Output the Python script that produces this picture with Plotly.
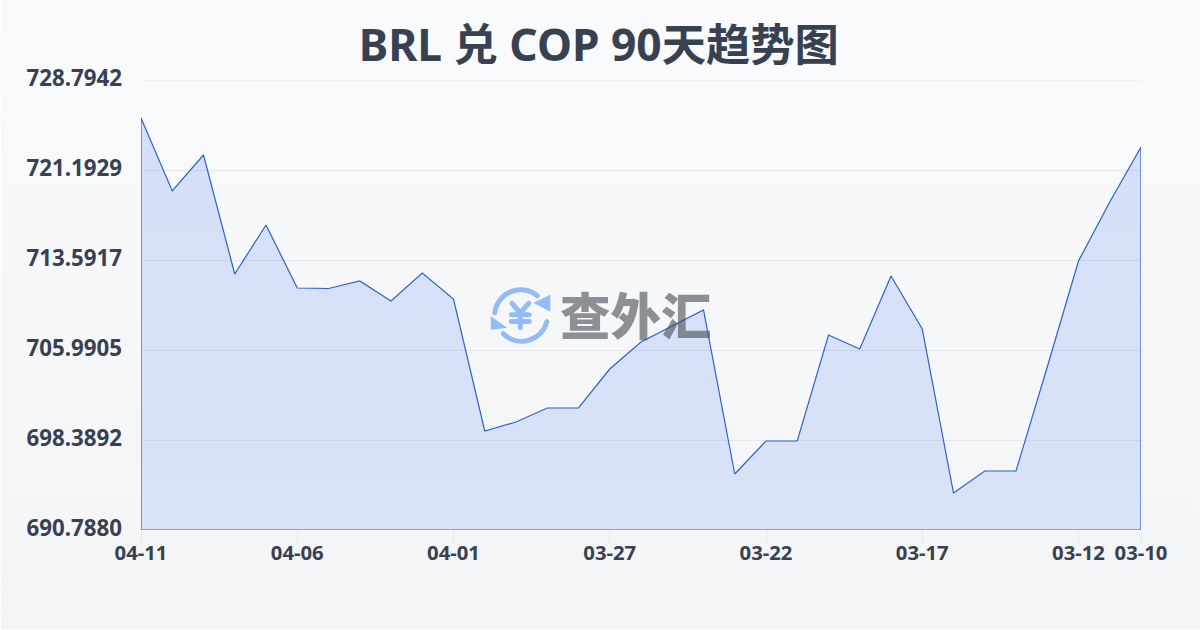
import base64
import plotly.graph_objects as go

dates = ["04-11","04-10","04-09","04-08","04-07","04-06","04-05","04-04","04-03","04-02","04-01",
         "03-31","03-30","03-29","03-28","03-27","03-26","03-25","03-24","03-23","03-22","03-21",
         "03-20","03-19","03-18","03-17","03-16","03-15","03-14","03-13","03-12","03-11","03-10"]
rates = [725.585,719.419,722.460,712.409,716.548,711.227,711.185,711.818,710.129,712.494,710.298,
         699.149,699.909,701.092,701.092,704.386,706.666,708.017,709.369,695.518,698.305,698.305,
         707.257,706.075,712.240,707.764,693.913,695.771,695.771,704.555,713.507,718.490,723.135]
y_ticks = [690.7880,698.3892,705.9905,713.5917,721.1929,728.7942]
x_ticks = ["04-11","04-06","04-01","03-27","03-22","03-17","03-12","03-10"]
title = "BRL 兑 COP 90天趋势图"
watermark = "查外汇"

INK = "#374151"
GRID = "#e5e7eb"
FONT = "'Noto Sans','Noto Sans CJK SC',sans-serif"
W, H = 1200, 630
L, R, T, B = 140.5, 59, 80, 99.5
PW, PH = W - L - R, H - T - B

def svg_uri(body):
    svg = f'<svg xmlns="http://www.w3.org/2000/svg" width="{W}" height="{H}" viewBox="0 0 {W} {H}">{body}</svg>'
    return "data:image/svg+xml;base64," + base64.b64encode(svg.encode()).decode()

bg_svg = svg_uri('<defs><linearGradient id="g" x1="0" y1="0" x2="0" y2="1">'
                 '<stop offset="0" stop-color="#f8fafc"/><stop offset="1" stop-color="#f3f4f6"/>'
                 f'</linearGradient></defs><rect width="{W}" height="{H}" fill="url(#g)"/>')
icon_svg = svg_uri(
    '<g fill="none" stroke="#93bbf8" stroke-width="5" stroke-linecap="round" stroke-linejoin="round">'
    '<path d="M494.5 313 A26 26 0 0 1 537 296"/>'
    '<path d="M546.5 322 A26 26 0 0 1 503 334"/>'
    '<path d="M511.5 303.5 L520 313 L528.5 303.5 M511 315 H529 M511 321.7 H529 M520 314 V328" stroke-width="5"/>'
    '</g><g fill="#93bbf8"><path d="M550 295 V312 L533 303 Z"/><path d="M490.5 316.5 V330 L507 328 Z"/></g>')

def full_page_image(src, layer):
    return dict(source=src, xref="paper", yref="paper", x=-L / PW, y=1 + T / PH,
                sizex=W / PW, sizey=H / PH, xanchor="left", yanchor="top",
                sizing="stretch", layer=layer)

fig = go.Figure(go.Scatter(
    x=dates + [dates[-1], dates[0], dates[0]],
    y=rates + [y_ticks[0], y_ticks[0], rates[0]],
    mode="lines",
    line=dict(color="#2f62c6", width=1.2),
    fill="toself",
    fillgradient=dict(type="vertical", colorscale=[[0, "rgba(37,99,235,0.13)"], [1, "rgba(37,99,235,0.17)"]]),
    hoverinfo="skip", cliponaxis=False,
))
fig.update_layout(
    width=W, height=H, autosize=False,
    margin=dict(l=L, r=R, t=T, b=B, pad=0),
    paper_bgcolor="rgba(0,0,0,0)", plot_bgcolor="rgba(0,0,0,0)",
    showlegend=False, font=dict(family=FONT, color=INK),
    title=dict(text=title, x=0.499, xanchor="center", xref="container", y=0.928, yanchor="middle",
               font=dict(size=44.3, weight=700, color=INK, family=FONT)),
    xaxis=dict(type="category", categoryorder="array", categoryarray=dates, range=[0, len(dates) - 1],
               tickmode="array", tickvals=x_ticks, ticktext=x_ticks, ticks="outside", ticklen=11,
               tickwidth=1, tickcolor=GRID, showgrid=False, showline=False, zeroline=False,
               tickfont=dict(size=20.3, weight=700, color=INK, family=FONT), ticklabelstandoff=-6),
    yaxis=dict(range=[y_ticks[0], y_ticks[-1]], tickmode="array", tickvals=y_ticks,
               ticktext=[f"{v:.4f}" for v in y_ticks], ticks="", showgrid=True, gridcolor=GRID,
               gridwidth=1, showline=False, zeroline=False, ticklabelshift=-2, ticklabelstandoff=18,
               tickfont=dict(size=22.3, weight=700, color=INK, family=FONT)),
    images=[full_page_image(bg_svg, "below"), full_page_image(icon_svg, "above")],
    shapes=[dict(type="line", xref="paper", x0=0, x1=1, yref="y", y0=y_ticks[-1], y1=y_ticks[-1],
                 line=dict(color=GRID, width=1), layer="below")],
    annotations=[dict(text=watermark, xref="paper", yref="paper",
                      x=(636 - L) / PW, y=1 - (313 - T) / PH, showarrow=False,
                      xanchor="center", yanchor="middle",
                      font=dict(size=50.5, weight=900, color="rgba(80,84,92,0.64)",
                                family="'Noto Sans CJK SC',sans-serif"))],
)
fig.write_html("out.html", config={"displayModeBar": False},
               post_script="document.body.style.margin='0';")
